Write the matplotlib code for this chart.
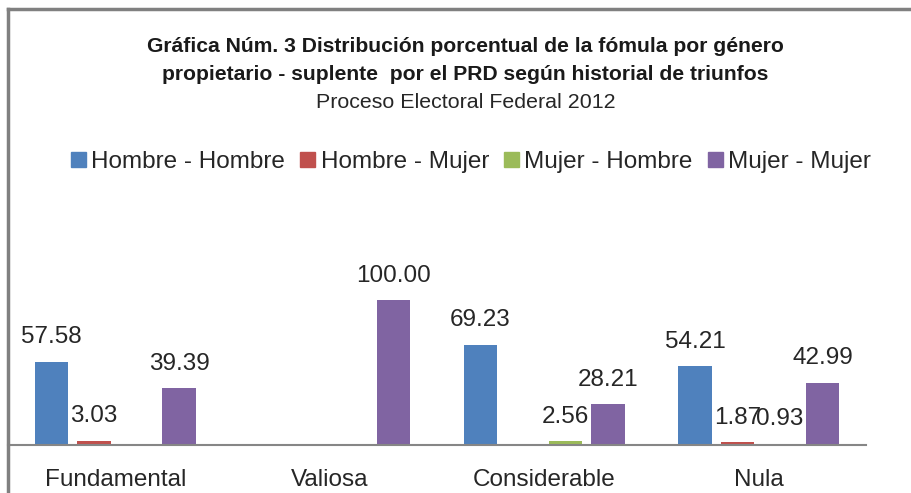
import numpy as np
import matplotlib.pyplot as plt
from matplotlib.lines import Line2D
from matplotlib.patches import Patch

plt.rcParams['font.family'] = ['Liberation Sans', 'DejaVu Sans']

categories = ['Fundamental', 'Valiosa', 'Considerable', 'Nula']
series = ['Hombre - Hombre', 'Hombre - Mujer', 'Mujer - Hombre', 'Mujer - Mujer']
hombre_hombre = [57.58, 0, 69.23, 54.21]
hombre_mujer = [3.03, 0, 0, 1.87]
mujer_hombre = [0, 0, 2.56, 0.93]
mujer_mujer = [39.39, 100.00, 28.21, 42.99]
colors = ['#4F81BD', '#C0504D', '#9BBB59', '#8064A2']

values = [hombre_hombre, hombre_mujer, mujer_hombre, mujer_mujer]

fig = plt.figure(figsize=(9.12, 4.93), dpi=100)
ax = fig.add_axes([8/912, 1 - 445/493, (866 - 8)/912, 174/493])

x = np.arange(len(categories))
step = 0.198
width = 0.158
for i, (vals, name, col) in enumerate(zip(values, series, colors)):
    pos = x + (i - 1.5) * step
    bars = ax.bar(pos, vals, width, color=col, label=name, zorder=2)
    for b, v in zip(bars, vals):
        if v > 0:
            ax.annotate(f'{v:.2f}', (b.get_x() + b.get_width() / 2, v),
                        xytext=(0, 9.5), textcoords='offset points',
                        ha='center', va='bottom', fontsize=17.5, color='#262626')

ax.set_xlim(-0.5, 3.5)
ax.set_ylim(0, 120)
ax.set_yticks([])
ax.set_xticks(x)
ax.set_xticklabels(categories, fontsize=17.5, color='#262626')
ax.tick_params(axis='x', length=0, pad=17.5)
for s in ['top', 'right', 'left']:
    ax.spines[s].set_visible(False)
ax.spines['bottom'].set_color('#868686')
ax.spines['bottom'].set_linewidth(1.5)
ax.patch.set_alpha(0)

# chart border (only top and left visible in the crop)
fig.add_artist(Line2D([8/912, 8/912], [0, 1 - 9/493], color='#808080', lw=2.5,
                      transform=fig.transFigure))
fig.add_artist(Line2D([8/912, 1], [1 - 9/493, 1 - 9/493], color='#808080', lw=2.5,
                      transform=fig.transFigure))

fig.text(465/912, 1 - 46/493, 'Gráfica Núm. 3 Distribución porcentual de la fómula por género',
         ha='center', va='center', fontsize=15.2, fontweight='bold', color='#1a1a1a')
fig.text(465/912, 1 - 74/493, 'propietario - suplente  por el PRD según historial de triunfos',
         ha='center', va='center', fontsize=15.2, fontweight='bold', color='#1a1a1a')
fig.text(466/912, 1 - 102.5/493, 'Proceso Electoral Federal 2012',
         ha='center', va='center', fontsize=15.4, color='#262626')

handles = [Patch(color=c) for c in colors]
fig.legend(handles, series, loc='center', bbox_to_anchor=(471/912, 1 - 162/493),
           ncol=4, frameon=False, fontsize=17.5, handlelength=0.62, handleheight=0.55,
           handletextpad=0.22, columnspacing=0.62, labelcolor='#262626')

fig.savefig('out.png', dpi=100)
